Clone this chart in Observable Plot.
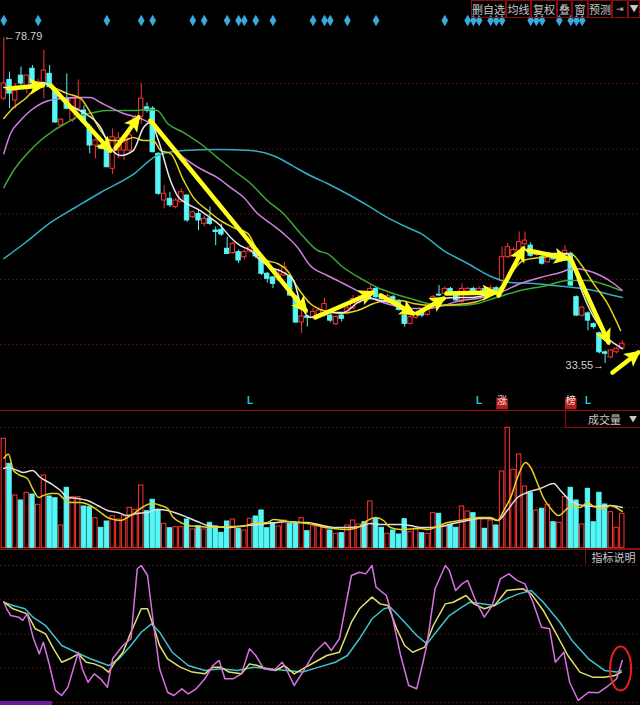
<!DOCTYPE html>
<html><head><meta charset="utf-8">
<script src="https://cdn.jsdelivr.net/npm/d3@7"></script>
<script src="https://cdn.jsdelivr.net/npm/@observablehq/plot@0.6"></script>
<style>
html,body{margin:0;padding:0;background:#000;}
#wrap{position:relative;width:640px;height:705px;background:#000;overflow:hidden;}
#wrap svg{position:absolute;left:0;display:block;}
.box{position:absolute;box-sizing:border-box;color:#c8c8c8;font:11px "Noto Sans CJK SC",sans-serif;text-align:center;white-space:nowrap;line-height:16px;overflow:hidden;}
.sep{position:absolute;left:0;width:640px;height:1px;background:#9a0d0d;}
</style></head><body><div id="wrap"></div>
<script>
// ---------- price data (daily candles) ----------
const opens = [70.3,72.9,70.05,73.5,72.1,74.45,72.2,72.4,73.75,71.4,66.6,70.3,67.3,68.9,68.66,66.34,63.8,63.8,63.57,60.57,63.1,63.1,63.1,66.3,67.8,69.1,68.9,62.65,56.17,56.4,55.24,55.93,56.86,53.85,54.3,52.93,53.63,52.0,52.1,49.47,48.86,49.0,48.3,49.09,49.2,48.26,46.0,45.5,45.07,45.76,45.62,42.85,39.24,40.07,39.9,40.2,40.2,40.2,39.0,40.2,40.5,41.2,42.0,42.9,42.98,43.9,42.98,42.3,42.75,42.2,40.2,39.05,39.9,40.6,40.3,42.3,43.1,43.2,43.9,43.0,42.1,43.2,43.9,43.4,43.9,43.4,44.0,45.0,48.3,48.5,49.2,50.1,49.9,48.6,48.3,47.6,48.5,48.0,48.3,48.77,42.75,40.2,40.5,39.0,37.75,35.1,34.4,35.1,35.6];
const highs = [78.79,74.0,72.4,74.7,73.6,74.9,73.0,77.0,74.9,71.7,67.55,73.75,70.5,72.9,69.35,66.7,64.7,64.0,64.0,66.1,65.6,64.9,65.9,68.0,72.4,69.7,69.2,62.8,58.25,57.3,56.4,57.8,56.9,54.7,54.8,54.0,55.24,52.5,52.9,51.07,50.4,49.3,49.3,49.9,49.4,48.67,46.2,45.6,46.7,47.56,45.9,42.98,40.9,40.2,41.2,41.3,42.6,40.4,40.2,40.4,41.5,43.0,43.0,43.2,44.37,44.1,43.2,43.2,43.0,42.4,40.4,40.2,40.9,40.9,41.5,43.0,44.37,44.2,44.1,43.2,44.6,44.1,44.1,44.2,44.0,44.4,44.2,49.7,50.2,49.6,51.8,51.8,50.3,49.1,48.5,48.6,48.7,48.6,49.9,49.0,42.9,41.5,40.7,39.2,37.9,35.3,35.5,35.8,36.7];
const lows = [70.0,68.9,68.9,72.1,71.0,72.2,71.8,70.3,71.7,66.9,66.5,68.76,67.0,68.66,66.8,62.65,61.95,63.2,60.7,59.8,62.0,61.7,62.8,65.9,66.7,68.3,62.8,56.9,55.0,55.2,55.0,55.9,53.15,53.67,52.0,52.5,52.7,49.9,51.2,48.7,48.7,47.4,47.9,48.8,48.1,45.76,44.7,43.96,44.9,45.6,42.85,39.1,37.7,38.6,39.7,40.0,40.0,39.2,38.8,39.3,40.3,41.0,41.8,42.2,42.8,42.5,42.3,42.1,42.0,40.8,38.6,38.9,39.7,39.9,40.1,42.1,42.85,42.9,43.1,42.0,41.9,43.0,43.2,43.2,43.3,43.2,43.4,44.3,48.1,48.2,49.0,49.8,48.3,48.4,47.2,47.4,47.9,47.9,48.1,44.2,40.1,40.0,38.1,38.3,34.9,33.55,34.2,34.9,35.5];
const closes = [72.4,71.0,71.4,72.4,73.5,72.4,72.6,74.2,71.9,67.0,67.4,68.9,70.3,70.3,67.0,63.8,64.5,63.35,60.79,64.95,64.8,64.2,65.2,67.6,70.3,68.6,62.87,57.1,57.1,55.5,56.17,57.32,53.4,54.54,53.4,53.63,52.93,51.8,51.45,48.76,50.15,47.84,49.0,49.65,48.4,46.0,45.3,44.6,45.9,46.87,42.98,39.24,40.07,39.9,40.7,40.9,41.8,39.5,40.0,39.75,41.2,42.5,42.6,42.4,43.91,42.75,42.5,42.9,42.3,41.0,39.05,39.97,40.6,40.2,41.3,42.75,42.98,43.9,43.3,42.3,43.9,43.9,43.4,43.9,43.5,44.0,43.7,48.3,49.7,49.3,50.4,50.6,48.5,48.9,47.4,48.3,48.0,48.4,49.2,44.37,40.2,41.3,39.5,38.6,35.1,34.9,35.36,35.6,36.3];
const volumes = [109.4,84.4,52.7,47.7,55.4,53.7,43.4,72.7,51.7,50.0,22.7,60.4,51.0,51.0,41.7,41.0,30.0,20.4,26.7,32.0,28.7,32.0,40.4,38.4,62.7,37.0,48.4,38.4,24.4,20.0,21.0,21.0,28.7,18.7,22.0,18.7,25.4,21.7,15.4,26.7,28.7,19.4,17.7,29.4,31.7,37.7,20.0,25.0,21.7,27.7,24.4,25.0,30.0,17.0,21.7,22.7,21.0,17.7,14.4,15.0,22.7,27.7,23.7,26.0,46.7,29.4,20.4,14.4,17.7,13.7,29.0,16.0,19.4,15.0,14.4,35.0,34.4,21.7,23.4,20.4,41.7,36.7,35.0,30.4,19.4,27.7,22.7,76.7,120.4,78.4,93.7,61.7,55.0,37.7,39.4,43.4,26.0,25.4,51.0,60.4,47.7,23.7,59.4,26.0,55.4,43.7,36.0,20.4,34.4];

// ---------- moving-average lines (candle index, value) ----------
const ma5Idx = [0,1.7,5.2,6.9,9.4,12.2,13.9,16.9,18.6,20.4,22.6,24.4,25.6,27,29.1,30.3,32,34.3,36,37.8,39.6,41.3,43.1,44.8,46.6,48.8,50.6,51.8,53.5,55.3,57.6,59.3,61.8,64,65.8,68,69.8,71.5,73.3,75,76.8,79.2,81.5,83.8,86.2,88.5,90.2,91.4,93.7,96,98.4,99.5,100.7,102.4,104.2,105.9,107.7,108];
const ma5Val = [71.85,71.85,72.27,72.55,71.0,69.08,68.39,66.3,63.53,62.42,63.1,66.3,67.0,64.5,58.95,56.86,55.75,54.78,53.8,52.7,51.04,49.9,49.23,47.84,46.9,46.2,45.07,41.9,39.93,40.5,40.63,40.63,42.0,42.57,42.29,41.88,40.9,40.5,40.9,41.9,42.57,42.7,42.7,42.98,43.4,46.46,48.8,49.37,48.95,48.8,48.8,46.87,44.1,40.9,38.5,36.74,35.77,35.6];
const ma10Idx = [0,1.2,3.8,6.9,8.7,11.1,13.4,15.1,16.9,18.6,20.9,22.6,24.4,26.1,27.4,29.1,31.4,33.1,35.6,37.8,40.1,42.6,44.3,46,47.8,49.5,51.3,53.5,55.8,58.8,61.8,64.6,67,69.3,71.5,75,81,86.2,88.5,90.7,93.7,96.7,99,100.7,103,105.4,107.7];
const ma10Val = [67.55,68.66,70.33,72.4,71.85,71.0,70.33,68.4,65.88,64.5,64.5,64.9,64.5,64.5,63.1,62.7,58.95,56.6,54.78,53.4,52.4,51.6,49.23,47.84,47.43,46.46,44.1,41.88,40.9,40.5,40.9,41.88,42.29,42.29,41.88,41.6,41.88,43.68,46.0,47.84,48.26,48.5,48.8,47.4,44.6,41.88,38.13];
const ma20Idx = [0,1.2,2.9,4.7,6.9,9.9,12.9,15.1,16.9,18.6,20.9,23.9,26.1,28.6,31.4,34.9,37.3,39.6,41.9,44.3,46.6,48.8,51.3,53.5,56.5,59.3,62.3,65.2,68,71,74,76.8,79.7,82.7,86.7,90.2,93.7,97.2,99.5,101.9,104.2,106.5,108];
const ma20Val = [62.7,65.5,67.27,68.66,69.77,70.33,70.46,70.46,69.77,69.08,68.24,67.55,66.58,64.08,62.13,60.33,59.36,57.97,56.58,54.36,52.98,51.6,49.65,47.15,45.76,44.65,43.4,42.29,41.6,41.18,41.18,41.6,42.29,42.57,43.4,44.65,45.48,46.18,46.73,46.46,45.76,44.65,43.68];
const ma30Idx = [0,1.7,4.1,6.4,8.7,11.1,13.4,15.7,18.1,20.4,22.7,25.1,26.8,28.6,31.4,34.3,37.3,40.1,43.1,46,48.8,51.8,54.8,56.5,59.3,62.3,65.2,68,71,74,76.8,79.7,82.7,85.5,90.2,94.9,98.4,101.9,105.4,107.7];
const ma30Val = [57.97,60.33,62.7,64.5,65.88,67.0,67.96,68.38,68.66,68.66,68.66,68.8,68.66,66.86,65.6,64.08,62.13,60.33,58.53,56.17,54.36,51.6,49.23,48.8,46.87,45.35,44.1,43.27,42.57,41.88,41.6,41.6,41.88,42.57,43.68,44.37,45.07,45.07,44.37,43.68];
const ma60Idx = [0,3.8,8.2,12.5,16.9,22.6,26.8,31.4,37.3,43.1,47.8,50.6,53.5,56.5,60.5,63.5,67,70.5,72.8,76.8,81,85.5,88.5,92.5,96,99.5,103,106.5,108];
const ma60Val = [48.1,50.34,53.12,55.2,57.28,59.78,62.42,63.11,63.25,63.11,62.13,60.9,59.64,58.53,56.86,55.48,53.8,52.42,51.6,49.23,47.43,45.48,44.79,44.65,44.37,44.1,43.68,42.98,42.7];

// ---------- volume averages ----------
const vma5Idx = [0,0.8,1.7,2.9,4.1,5.2,6.1,6.9,8.2,9.4,10.4,11.6,13.4,15.1,16.9,18.1,19.2,20.4,21.6,22.7,23.9,25.1,26.1,27.4,28.6,29.6,30.9,32.1,34.3,36.6,39.1,41.3,43.6,46,47.1,49.5,51.8,54.1,55.3,57.6,60,61.8,63.5,64.9,66.3,67.5,69.3,72.8,74,75.7,77.5,79.7,81.5,83.2,85,86.2,87.3,88.5,89.7,91.1,92,93.2,94.2,95.5,96.9,98.4,99.5,100.7,101.9,103,104.7,105.9,107.2,108];
const vma5Val = [90,94,77.7,72.7,69.7,57.7,50.7,52.7,54.7,54.7,49.7,45.7,45.7,42.7,35.7,30.7,28.7,27.7,30.7,34.7,39.7,43.7,44.7,42.7,39.7,30.7,25.7,22.7,21.7,20.7,21.7,21.7,24.7,25.7,28.7,26.7,25.7,23.7,21.7,19.7,18.7,20.7,27.7,30.7,27.7,20.7,18.7,19.7,18.7,21.7,25.7,27.7,29.7,30.7,30.7,27.7,37.7,50.7,70.7,85.7,80.7,64.7,50.7,39.7,32.7,39.7,42.7,40.7,45.7,41.7,39.7,42.7,39.7,36.7];
const vma10Idx = [0,0.6,2.4,3.4,5,6.4,8.2,9.9,11.1,12.9,14.6,16.4,18.1,19.9,21.6,23.3,25.1,26.8,28.6,30.3,32.1,33.8,35.6,37.3,39.1,40.8,42.6,44.3,46,47.8,49.5,51.3,53,55.3,57.6,60,62.3,64,65.8,67.5,69.3,71,72.8,74.5,76.3,78.5,81,83.2,85,86.2,87.9,89.7,91.4,93.7,96,97.2,98.9,101.2,103.7,105.9,108];
const vma10Val = [79.7,80.7,77.7,75.7,77.7,70.7,64.7,57.7,50.7,49.7,47.7,42.7,37.7,35.7,32.7,34.7,35.7,38.7,37.7,34.7,30.7,26.7,22.7,21.7,20.7,21.7,22.7,23.7,24.7,25.7,26.7,25.7,25.7,23.2,20.7,20.7,21.7,24.7,23.7,23.7,23.7,22.7,20.7,20.7,21.7,24.7,27.7,29.7,29.7,27.7,37.7,50.7,55.7,59.7,64.7,57.7,47.7,42.7,41.7,42.7,40.7];

// ---------- KDJ ----------
const jIdx = [0,0.5,1.2,2.6,3.3,4.1,5.1,6.2,6.9,8,9,10.1,11.2,13,13.7,14.7,15.8,16.9,18.1,19,20.8,22.2,23.3,24,25.1,26.1,27.2,28.6,29.7,31.1,32.2,33.6,35.1,36.5,37.6,38.6,40,41.5,42.9,44,45.4,47.2,48.6,49.3,50.7,52.2,54.3,56.1,57.2,58.6,60.7,62.1,63.2,64.3,65,66.8,67.8,69.3,70.7,72.1,73.2,73.9,75.3,77.1,77.8,78.9,80,81,82.5,83.9,85.3,86.7,88.2,89.6,91,92.4,93.9,95.3,96.3,97.8,98.8,100.3,102.1,103.8,105.6,107,108];
const jVal = [73.2,68.4,63.5,62.3,59.9,64.7,47.7,35.5,44.0,27.0,8.8,5.1,11.2,36.7,24.6,14.8,20.9,17.3,11.2,31.9,41.6,46.5,97.6,100,92.7,58.6,24.6,7.5,5.1,10.0,6.3,10.0,17.3,27.0,30.7,17.3,17.3,20.9,39.2,34.3,24.6,23.4,29.4,24.6,12.4,22.2,36.7,44.0,38.0,46.5,92.7,95.1,93.9,100,84.2,78.1,63.5,34.3,12.4,10.0,29.4,42.8,83.0,100,96.4,81.8,86.6,89.1,73.2,62.3,70.8,90.3,93.9,89.1,86.6,73.2,55.0,53.8,29.4,36.7,14.8,1.5,7.5,7.1,12.4,17.3,30.7];
const kIdx = [0,1.6,4.1,5.5,7.3,8.7,10.1,11.5,13,14.4,15.8,17.2,18.3,19.4,20.8,22.2,24,25.1,26.1,27.2,28.6,30.8,32.9,35.1,36.5,37.9,39.3,41.5,42.9,44.3,45.8,47.5,49,50.7,52.2,54.3,56.4,58.6,60.7,62.1,64.3,65.7,67.1,68.6,70,71.4,73.5,75,77.1,78.5,80.7,82.1,83.9,85.7,87.8,90.7,92.1,94.2,96.3,98.5,100.6,102.8,104.9,106.7,107.8];
const kVal = [73.2,68.4,64.7,53.8,50.1,39.2,29.4,31.9,35.5,29.4,28.2,25.8,22.2,29.4,36.7,51.3,68.4,68.4,56.2,41.6,31.9,25.8,22.2,20.9,25.8,25.8,22.2,20.9,28.2,27.0,24.6,23.4,27.0,20.9,24.6,29.4,34.3,36.7,58.6,68.4,76.9,72.0,70.8,53.8,41.6,36.7,40.4,56.2,72.0,73.2,78.1,72.0,68.4,70.8,81.8,83.0,79.3,67.2,51.3,34.3,22.2,18.5,18.5,19.7,22.2];
const dIdx = [0,1.6,3.7,5.1,7.3,10.1,12.6,15.1,18.3,20.1,22.2,24,25.8,27.2,29.4,32.2,35.1,37.9,40.8,43.6,46.5,49.3,52.2,55,57.9,60,62.1,64.3,66.4,67.5,70,72.1,73.9,75.7,77.8,80,81.4,83.5,85.7,87.8,89.9,92.1,94.2,97.1,99.2,102.1,104.9,107,107.8];
const dVal = [73.2,70.8,68.4,62.3,56.2,41.6,36.7,31.9,27.0,31.9,41.6,51.3,57.4,51.3,36.7,27.0,23.4,24.6,23.4,25.8,24.6,23.4,22.2,25.8,29.4,34.3,46.5,61.1,68.4,69.6,58.6,48.9,42.8,52.6,63.5,69.6,73.2,72.0,70.8,75.7,79.3,81.8,73.2,58.6,45.3,31.9,23.4,22.2,23.4];

// ---------- annotations ----------
const arrowX1 = [0.8,8.2,19.5,25.6,54.4,65.8,72.2,77.3,86.4,91.6,98.95,106.3];
const arrowY1 = [71.71,72.13,63.4,67.27,39.93,42.99,40.49,43.27,42.99,49.23,48.12,32.3];
const arrowX2 = [6.8,18.6,23.5,52.7,64.4,71.5,76.8,85.9,90.7,98.4,105.6,110.8];
const arrowY2 = [72.13,63.11,67.69,40.9,43.4,40.49,42.57,43.4,49.51,48.12,36.47,35.08];
const diamondIdx = [0,6,18,24,26,33,35,39,41,42,44,47,54,56,57,60,65,77,81,82,83,85,86,87,92,93,94,97,99,100,101];
const lIdx = [43,83,102];
const tagIdx = [87,99];
const tagText = ["涨","榜"];
const priceGrid = [72.4,63.3,54.3,45.2,36.2];
const volGrid = [40.7,80.7,120.7];
const kdjGrid = [0,25,50,75,100];
const circleIdx = [107.7];
const circleVal = [24.8];
const toolbar = ["删自选","均线","复权","叠","窗","预测","⇥","▼"];
const toolbarX = [471,506,531,557,572,588,612,628];
const toolbarW = [35,25,26,15,16,24,16,12];

// ---------- build ----------
const RED = "#ff3434", CYAN = "#54f6f6", YEL = "#ffff1a";
const candles = opens.map((o,i)=>({i,o,h:highs[i],l:lows[i],c:closes[i],v:volumes[i],up:closes[i]>=o}));
const pts = (ix, vals) => ix.map((x,k)=>({x, y:vals[k]}));
const X = {type:"linear", domain:[0,108], range:[3.3,621.8], axis:null};
const Y = {domain:[33.55,78.79], range:[363,37], axis:null};
// same mapping as the Plot scales, used only to orient the arrow heads on screen
const sx = d3.scaleLinear(X.domain, X.range), sy = d3.scaleLinear(Y.domain, Y.range);
const arrows = arrowX1.map((x1,k)=>{
  const x2 = arrowX2[k], y1 = arrowY1[k], y2 = arrowY2[k];
  const ang = Math.atan2(sy(y2)-sy(y1), sx(x2)-sx(x1))*180/Math.PI;
  return {x1, y1, x2, y2, ang};
});
const head = {draw(ctx){ ctx.moveTo(2,0); ctx.lineTo(-12,-7); ctx.lineTo(-9,0); ctx.lineTo(-12,7); ctx.closePath(); }};
const hiI = d3.maxIndex(highs), loI = d3.minIndex(lows);

const main = Plot.plot({
  width:640, height:410, margin:0,
  style:{background:"#000", overflow:"visible"},
  x:X, y:Y,
  color:{type:"identity"},
  marks:[
    Plot.ruleY(priceGrid, {stroke:"#6e1010", strokeDasharray:"1.5,2.5"}),
    Plot.ruleX(candles, {x:"i", y1:"l", y2:"h", stroke:d=>d.up?RED:CYAN}),
    Plot.rect(candles, {x1:d=>d.i-0.38, x2:d=>d.i+0.38, y1:"o", y2:"c", fill:d=>d.up?"#000":CYAN, stroke:d=>d.up?RED:CYAN}),
    Plot.line(pts(ma60Idx,ma60Val), {x:"x", y:"y", stroke:"#2fb0c0", curve:"monotone-x"}),
    Plot.line(pts(ma30Idx,ma30Val), {x:"x", y:"y", stroke:"#3aa83a", curve:"monotone-x"}),
    Plot.line(pts(ma20Idx,ma20Val), {x:"x", y:"y", stroke:"#d080e0", curve:"monotone-x"}),
    Plot.line(pts(ma10Idx,ma10Val), {x:"x", y:"y", stroke:"#e6d21e", curve:"monotone-x"}),
    Plot.line(pts(ma5Idx,ma5Val), {x:"x", y:"y", stroke:"#e8e8e8", curve:"monotone-x"}),
    Plot.link(arrows, {x1:"x1", y1:"y1", x2:"x2", y2:"y2", stroke:YEL, strokeWidth:4.5, strokeLinecap:"round"}),
    Plot.dot(arrows, {x:"x2", y:"y2", rotate:"ang", symbol:head, r:5, fill:YEL, stroke:YEL, strokeWidth:1}),
    Plot.dot(diamondIdx, {x:d=>d, frameAnchor:"top", dy:20, symbol:"diamond", r:3.5, fill:"#38aadc"}),
    Plot.text(lIdx, {x:d=>d, frameAnchor:"bottom", dy:-7, text:()=>"L", fill:"#2cc6d0", fontSize:10, fontWeight:"bold", fontFamily:"Liberation Sans"}),
    Plot.dot(tagIdx, {x:d=>d, frameAnchor:"bottom", dy:-7, symbol:"square", r:6.5, fill:"#b41e1e"}),
    Plot.text(tagIdx, {x:d=>d, frameAnchor:"bottom", dy:-7, text:(d,k)=>tagText[k], fill:"#f4dede", fontSize:10, fontFamily:"Noto Sans CJK SC"}),
    Plot.text([hiI], {x:d=>d, y:d=>highs[d], text:d=>"←"+d3.format(".2f")(highs[d]), textAnchor:"start", dx:0, dy:-1, fill:"#cfcfcf", fontSize:11, fontFamily:"Liberation Sans"}),
    Plot.text([loI], {x:d=>d, y:d=>lows[d], text:d=>d3.format(".2f")(lows[d])+"→", textAnchor:"end", dx:-1, dy:2, fill:"#cfcfcf", fontSize:11, fontFamily:"Liberation Sans"})
  ]
});

const vol = Plot.plot({
  width:640, height:139, margin:0,
  style:{background:"#000", overflow:"visible"},
  x:X,
  y:{domain:[0,120.4], range:[137.7,17.3], axis:null},
  color:{type:"identity"},
  marks:[
    Plot.ruleY(volGrid, {stroke:"#6e1010", strokeDasharray:"1.5,2.5"}),
    Plot.rect(candles, {x1:d=>d.i-0.38, x2:d=>d.i+0.38, y1:0, y2:"v", fill:d=>d.up?"#000":CYAN, stroke:d=>d.up?RED:CYAN}),
    Plot.line(pts(vma10Idx,vma10Val), {x:"x", y:"y", stroke:"#e0e0e0", curve:"monotone-x"}),
    Plot.line(pts(vma5Idx,vma5Val), {x:"x", y:"y", stroke:"#e6d21e", curve:"monotone-x"})
  ]
});

const ellipse = {draw(ctx){const rx=10.5, ry=22, k=0.5523;
  ctx.moveTo(rx,0); ctx.bezierCurveTo(rx,k*ry,k*rx,ry,0,ry); ctx.bezierCurveTo(-k*rx,ry,-rx,k*ry,-rx,0);
  ctx.bezierCurveTo(-rx,-k*ry,-k*rx,-ry,0,-ry); ctx.bezierCurveTo(k*rx,-ry,rx,-k*ry,rx,0); ctx.closePath();}};

const kdj = Plot.plot({
  width:640, height:156, margin:0,
  style:{background:"#000", overflow:"visible"},
  x:X,
  y:{domain:[0,100], range:[153,16], axis:null},
  marks:[
    Plot.ruleY(kdjGrid, {stroke:"#6e1010", strokeDasharray:"1.5,2.5"}),
    Plot.line(pts(dIdx,dVal), {x:"x", y:"y", stroke:"#3cc4cc"}),
    Plot.line(pts(kIdx,kVal), {x:"x", y:"y", stroke:"#e0e070"}),
    Plot.line(pts(jIdx,jVal), {x:"x", y:"y", stroke:"#d872e0"}),
    Plot.dot(circleIdx, {x:d=>d, y:(d,k)=>circleVal[k], symbol:ellipse, r:5, fill:"none", stroke:"#e82020", strokeWidth:2})
  ]
});

const wrap = document.getElementById("wrap");
function place(el, top){ el.style.top = top+"px"; wrap.appendChild(el); }
place(main, 0);
place(vol, 410);
place(kdj, 549);
function div(cls, css, txt){ const d=document.createElement("div"); d.className=cls; d.style.cssText=css; if(txt) d.textContent=txt; wrap.appendChild(d); return d; }
div("sep","top:410px;");
div("sep","top:549px;");
toolbar.forEach((t,k)=>div("box",`left:${toolbarX[k]}px;top:0;width:${toolbarW[k]}px;height:18px;border:1px solid #8a0c0c;font-size:${t.length===1&&k>5?9:11}px;`,t));
div("box","left:565px;top:411px;width:76px;height:17px;border-left:1px solid #8a0c0c;border-bottom:1px solid #8a0c0c;text-align:left;padding-left:22px;","成交量");
div("box","left:628px;top:411px;width:10px;height:16px;font-size:8px;","▼");
div("box","left:585px;top:548px;width:56px;height:16px;border-left:1px solid #8a0c0c;border-top:1px solid #8a0c0c;","指标说明");
div("box","left:0;top:701px;width:52px;height:4px;background:#6a1a9e;");
</script></body></html>
